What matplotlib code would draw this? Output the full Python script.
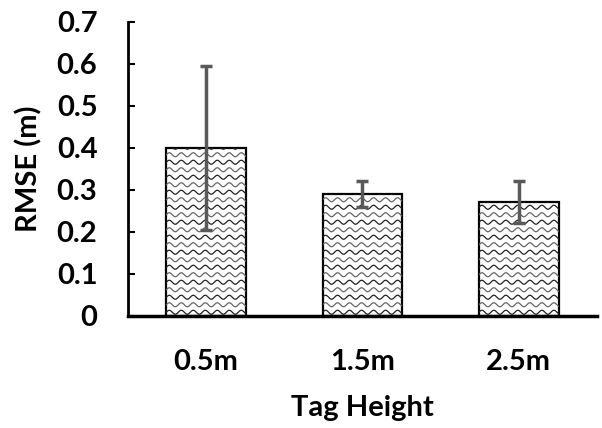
#RMSE vs tag height, bar chart with error bars and a wavy fill pattern
import numpy as np
import matplotlib.pyplot as plt
from matplotlib.patches import Rectangle

#data
heights = ["0.5m", "1.5m", "2.5m"]
rmse = [0.40, 0.29, 0.27]
rmse_err = [0.195, 0.03, 0.05]

plt.rcParams['font.family'] = ['Lato', 'DejaVu Sans']
plt.rcParams['font.weight'] = 'bold'

fig = plt.figure(figsize=(6.02, 4.28), dpi=100)
ax = fig.add_axes([0.2126, 0.2617, 0.779, 0.6877])

x = np.arange(len(heights))
w = 0.51
ax.set_xlim(-0.5, 2.5)
ax.set_ylim(0, 0.7)

bars = ax.bar(x, rmse, width=w, color="white", edgecolor="black", linewidth=1.6, zorder=2)

#wavy fill inside each bar, sizes worked out in pixels then converted to data units
fig.canvas.draw()
bb = ax.get_window_extent()
px_x = 3.0/bb.width
px_y = 0.7/bb.height
period = 12*px_x
amp = 2.0*px_y
gap = 7.5*px_y
for b in bars:
    x0, y0 = b.get_x(), b.get_y()
    bw, bh = b.get_width(), b.get_height()
    clip = Rectangle((x0, y0), bw, bh, transform=ax.transData)
    xs = np.linspace(x0, x0+bw, 200)
    yy = y0 + gap/2
    k = 0
    while yy < y0+bh+gap:
        ln, = ax.plot(xs, yy+amp*np.sin(2*np.pi*(xs-x0)/period), color="#222222" if k % 2 == 0 else "#666666",
                      lw=0.9, zorder=2.5)
        ln.set_clip_path(clip)
        yy += gap
        k += 1

ax.errorbar(x, rmse, yerr=rmse_err, fmt="none", ecolor="#595959", elinewidth=2.5,
            capsize=4, capthick=2.5, zorder=3)

for s in ["top", "right"]:
    ax.spines[s].set_visible(False)
ax.spines["left"].set_linewidth(2)
ax.spines["bottom"].set_linewidth(2.5)

ax.set_yticks(np.arange(0, 0.71, 0.1))
ax.set_yticklabels(["0", "0.1", "0.2", "0.3", "0.4", "0.5", "0.6", "0.7"])
ax.tick_params(axis="y", direction="in", length=5, width=1.5, labelsize=21, pad=22)
ax.set_xticks(x)
ax.set_xticklabels(heights)
ax.tick_params(axis="x", length=0, labelsize=21, pad=24)

ax.set_xlabel("Tag Height", fontsize=21, fontweight="bold", va="center")
ax.set_ylabel("RMSE (m)", fontsize=21, fontweight="bold")
ax.xaxis.set_label_coords(0.5, -0.3126)
ax.yaxis.set_label_coords(-0.183, 0.5)

plt.savefig("out.png", dpi=100)
